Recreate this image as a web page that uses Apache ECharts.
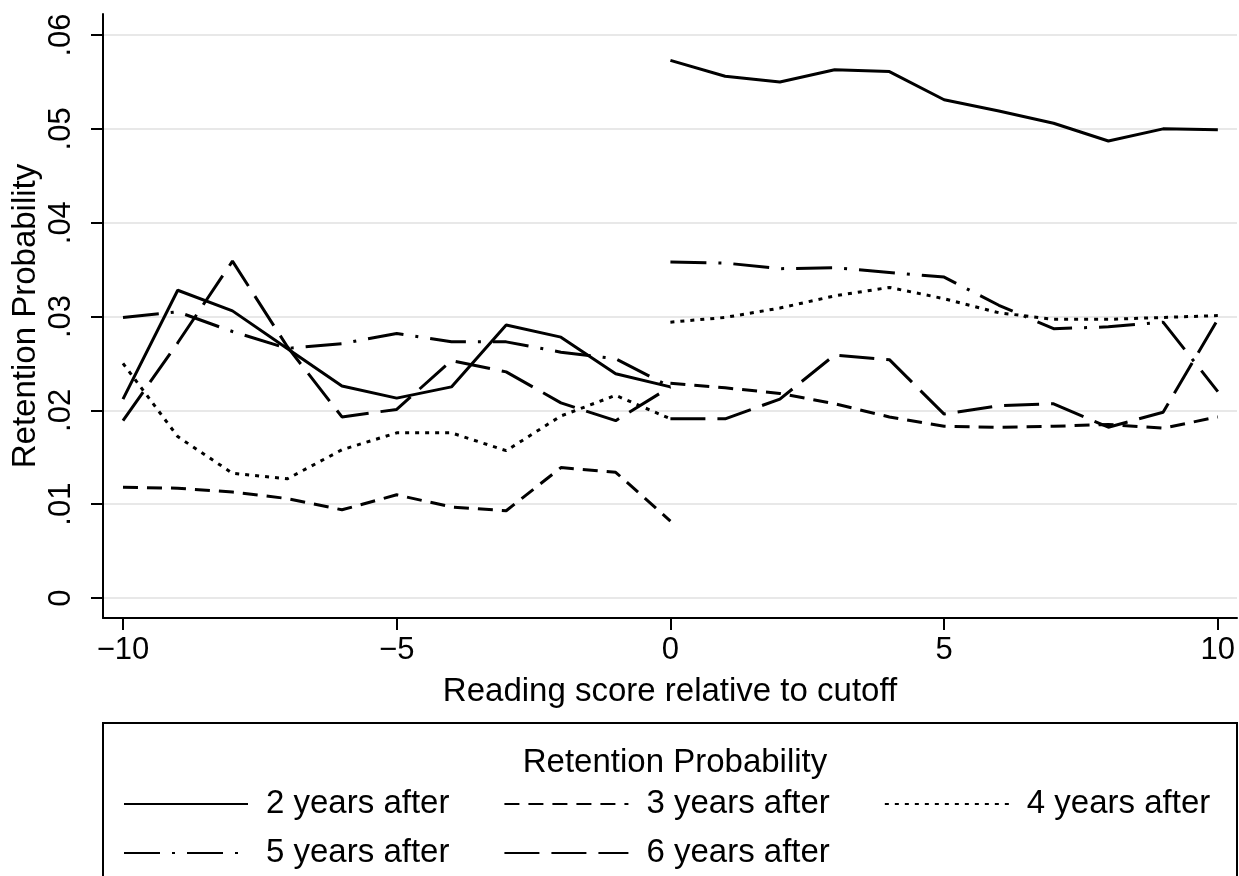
<!DOCTYPE html>
<html>
<head>
<meta charset="UTF-8">
<title>Retention Probability</title>
<script src="https://cdn.jsdelivr.net/npm/echarts@6/dist/echarts.min.js"></script>
<style>
  html, body { margin: 0; padding: 0; background: #fff; }
  #chart { width: 1239px; height: 876px; }
</style>
</head>
<body>
<div id="chart"></div>
<script type="text/javascript">

  // scores left and right of the cutoff (the lines break at 0)
  var xLeft  = [-10, -9, -8, -7, -6, -5, -4, -3, -2, -1, 0];
  var xRight = [0, 1, 2, 3, 4, 5, 6, 7, 8, 9, 10];

  var names = ['2 years after', '3 years after', '4 years after', '5 years after', '6 years after'];

  var yr2Left  = [.0212, .0328, .0306, .0266, .0226, .0213, .0225, .0291, .0278, .0239, .0225];
  var yr2Right = [.0573, .0556, .0550, .0563, .0561, .0531, .0519, .0506, .0487, .0500, .0499];
  var yr3Left  = [.0118, .0117, .0113, .0106, .0094, .0110, .0097, .0093, .0139, .0134, .0082];
  var yr3Right = [.0229, .0224, .0218, .0207, .0193, .0183, .0182, .0183, .0185, .0181, .0193];
  var yr4Left  = [.0250, .0172, .0133, .0127, .0158, .0176, .0176, .0157, .0194, .0216, .0191];
  var yr4Right = [.0294, .0299, .0309, .0322, .0331, .0319, .0304, .0297, .0297, .0299, .0301];
  var yr5Left  = [.0299, .0305, .0284, .0266, .0271, .0282, .0273, .0273, .0262, .0255, .0225];
  var yr5Right = [.0358, .0357, .0351, .0352, .0347, .0342, .0312, .0287, .0289, .0294, .0220];
  var yr6Left  = [.0189, .0272, .0359, .0268, .0193, .0201, .0253, .0241, .0208, .0189, .0225];
  var yr6Right = [.0191, .0191, .0212, .0259, .0254, .0196, .0205, .0207, .0182, .0198, .0297];

  var xTicks = [-10, -5, 0, 5, 10];
  var yTicks = [0, .01, .02, .03, .04, .05, .06];

  var lefts  = [yr2Left, yr3Left, yr4Left, yr5Left, yr6Left];
  var rights = [yr2Right, yr3Right, yr4Right, yr5Right, yr6Right];
  var dashes = ['solid', [15, 9], [4, 6], [36, 12, 3, 12], [35, 12]];

  function pairs(xs, ys) {
    var out = [];
    for (var i = 0; i < xs.length; i++) out.push([xs[i], ys[i]]);
    return out;
  }

  var series = [];
  for (var k = 0; k < names.length; k++) {
    [pairs(xLeft, lefts[k]), pairs(xRight, rights[k])].forEach(function (d) {
      series.push({
        name: names[k],
        type: 'line',
        data: d,
        symbol: 'none',
        silent: true,
        animation: false,
        itemStyle: { color: '#000' },
        lineStyle: { color: '#000', width: 3, type: dashes[k], cap: 'butt' }
      });
    });
  }

  var font = 'Liberation Sans, Arial, Helvetica, sans-serif';
  var legendBase = {
    orient: 'horizontal',
    left: 123,
    padding: 0,
    itemWidth: 124,
    itemHeight: 20,
    itemGap: 54,
    selectedMode: false,
    itemStyle: { opacity: 0 },
    textStyle: { fontFamily: font, fontSize: 33, color: '#000', lineHeight: 36, padding: [0, 0, 0, 13] }
  };

  var myChart = echarts.init(document.getElementById('chart'));
  var option = {
    backgroundColor: '#fff',
    animation: false,
    textStyle: { fontFamily: font },
    title: {
      text: 'Retention Probability',
      left: 670,
      top: 741,
      textAlign: 'center',
      textStyle: { fontFamily: font, fontSize: 33, fontWeight: 'normal', color: '#000' }
    },
    legend: [
      echarts.util.merge({ top: 786, data: names.slice(0, 3) }, legendBase, true),
      echarts.util.merge({ top: 835, data: names.slice(3) }, legendBase, true)
    ],
    graphic: [{
      type: 'rect',
      shape: { x: 103, y: 723, width: 1134, height: 170 },
      style: { fill: 'none', stroke: '#000', lineWidth: 2 },
      silent: true
    }],
    grid: { left: 103, right: 2, top: 14, bottom: 258, containLabel: false, outerBoundsMode: 'none' },
    xAxis: {
      type: 'value',
      min: -10.365,
      max: 10.35,
      name: 'Reading score relative to cutoff',
      nameLocation: 'middle',
      nameGap: 57,
      nameMoveOverlap: false,
      nameTextStyle: { fontFamily: font, fontSize: 33, color: '#000' },
      axisLine: { show: true, onZero: false, lineStyle: { color: '#000', width: 2 } },
      axisTick: { show: true, length: 12, customValues: xTicks, lineStyle: { color: '#000', width: 2 } },
      axisLabel: {
        customValues: xTicks,
        margin: 17,
        fontSize: 31,
        color: '#000',
        fontFamily: font,
        formatter: function (v) { return v < 0 ? '\u2212' + (-v) : String(v); }
      },
      splitLine: { show: false }
    },
    yAxis: {
      type: 'value',
      min: -0.00213,
      max: 0.06224,
      name: 'Retention Probability',
      nameLocation: 'middle',
      nameGap: 61,
      nameRotate: 90,
      nameMoveOverlap: false,
      nameTextStyle: { fontFamily: font, fontSize: 33, color: '#000' },
      axisLine: { show: true, onZero: false, lineStyle: { color: '#000', width: 2 } },
      axisTick: { show: true, length: 12, customValues: yTicks, lineStyle: { color: '#000', width: 2 } },
      axisLabel: {
        customValues: yTicks,
        rotate: 90,
        margin: 26,
        fontSize: 31,
        color: '#000',
        fontFamily: font,
        formatter: function (v) { return v === 0 ? '0' : v.toFixed(2).replace(/^0/, ''); }
      },
      splitLine: { show: true, lineStyle: { color: '#e8e8e8', width: 2 } }
    },
    series: series
  };
  myChart.setOption(option);

</script>
</body>
</html>
